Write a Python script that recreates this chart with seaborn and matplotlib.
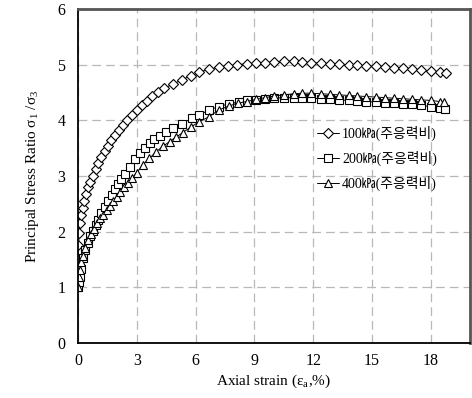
import matplotlib
matplotlib.use("Agg")
import matplotlib.pyplot as plt
import seaborn as sns

# ---- data ----
x_100 = [0, 0.03, 0.07, 0.12, 0.18, 0.25, 0.33, 0.42, 0.52, 0.63, 0.76, 0.9, 1.05, 1.2, 1.36,
         1.53, 1.7, 1.9, 2.1, 2.3, 2.5, 2.75, 3.0, 3.25, 3.5, 3.8, 4.1, 4.4, 4.83,
         5.3, 5.75, 6.2, 6.7, 7.2, 7.65, 8.1, 8.6, 9.1, 9.55, 10.0, 10.5, 11.0, 11.45, 11.9,
         12.4, 12.85, 13.3, 13.8, 14.25, 14.7, 15.2, 15.65, 16.1, 16.6, 17.05, 17.5, 18.0, 18.45, 18.76]
y_100 = [1.51, 1.76, 1.98, 2.15, 2.3, 2.43, 2.55, 2.67, 2.8, 2.9, 3.0, 3.12, 3.24, 3.35, 3.45,
         3.55, 3.64, 3.73, 3.83, 3.91, 4.0, 4.1, 4.19, 4.27, 4.35, 4.44, 4.52, 4.58, 4.65,
         4.73, 4.8, 4.87, 4.92, 4.96, 4.98, 5.0, 5.02, 5.03, 5.04, 5.05, 5.06, 5.07, 5.05, 5.04,
         5.03, 5.02, 5.01, 5.0, 4.99, 4.98, 4.97, 4.96, 4.95, 4.94, 4.92, 4.9, 4.88, 4.87, 4.86]

x_200 = [0, 0.05, 0.1, 0.17, 0.27, 0.38, 0.5, 0.62, 0.75, 0.9,
         1.05, 1.2, 1.38, 1.55, 1.72, 1.9, 2.04, 2.2, 2.4, 2.64,
         2.9, 3.15, 3.4, 3.66, 3.9, 4.17, 4.5, 4.83, 5.3, 5.8,
         6.2, 6.7, 7.2, 7.7, 8.2, 8.6, 9.1, 9.55, 10.0, 10.5,
         11.0, 11.45, 11.9, 12.4, 12.85, 13.3, 13.8, 14.25, 14.7, 15.2,
         15.65, 16.1, 16.6, 17.05, 17.5, 18.0, 18.45, 18.7]
y_200 = [1.0, 1.1, 1.19, 1.33, 1.53, 1.68, 1.8, 1.92, 2.02, 2.12,
         2.22, 2.33, 2.45, 2.56, 2.66, 2.77, 2.86, 2.95, 3.04, 3.16,
         3.3, 3.42, 3.51, 3.6, 3.66, 3.72, 3.8, 3.87, 3.94, 4.04,
         4.1, 4.19, 4.25, 4.3, 4.33, 4.36, 4.37, 4.39, 4.4, 4.41,
         4.41, 4.41, 4.4, 4.39, 4.38, 4.37, 4.36, 4.35, 4.34, 4.33,
         4.32, 4.31, 4.3, 4.29, 4.27, 4.25, 4.23, 4.21]

x_400 = [0, 0.05, 0.1, 0.17, 0.25, 0.35, 0.5, 0.65, 0.8, 1.0,
         1.15, 1.3, 1.47, 1.63, 1.8, 1.98, 2.15, 2.35, 2.54, 2.75,
         3.0, 3.3, 3.65, 4.0, 4.35, 4.68, 5.0, 5.34, 5.75, 6.2,
         6.7, 7.2, 7.7, 8.15, 8.6, 9.1, 9.55, 10.0, 10.5, 11.0,
         11.45, 11.9, 12.4, 12.85, 13.3, 13.8, 14.25, 14.7, 15.2, 15.65,
         16.1, 16.6, 17.05, 17.5, 18.0, 18.45, 18.66]
y_400 = [1.0, 1.19, 1.32, 1.45, 1.57, 1.7, 1.85, 1.96, 2.05, 2.16,
         2.24, 2.31, 2.39, 2.47, 2.55, 2.63, 2.71, 2.8, 2.88, 2.96,
         3.06, 3.2, 3.32, 3.44, 3.54, 3.62, 3.7, 3.78, 3.88, 3.98,
         4.07, 4.19, 4.26, 4.31, 4.34, 4.38, 4.41, 4.44, 4.46, 4.48,
         4.49, 4.49, 4.48, 4.47, 4.46, 4.45, 4.44, 4.43, 4.42, 4.41,
         4.4, 4.39, 4.38, 4.37, 4.36, 4.34, 4.33]

labels = ["100㎪(주응력비)", "200㎪(주응력비)", "400㎪(주응력비)"]
markers = ["D", "s", "^"]
marker_sizes = [5, 6, 6]
x_ticks = [0, 3, 6, 9, 12, 15, 18]
y_ticks = [0, 1, 2, 3, 4, 5, 6]

# ---- style ----
sns.set_theme(style="white")
plt.rcParams["font.family"] = ["Liberation Serif", "Noto Sans CJK KR", "DejaVu Sans"]
plt.rcParams["mathtext.fontset"] = "custom"
plt.rcParams["mathtext.rm"] = "Liberation Serif"
plt.rcParams["mathtext.it"] = "Liberation Serif:italic"

fig = plt.figure(figsize=(4.72, 3.98), dpi=100)
ax = fig.add_axes([0.165, 0.138, 0.831, 0.839])

series = [(x_100, y_100), (x_200, y_200), (x_400, y_400)]
for (xs, ys), lab, mk, ms in zip(series, labels, markers, marker_sizes):
    sns.lineplot(x=xs, y=ys, ax=ax, sort=False, estimator=None, color="black",
                 linewidth=0.7, marker=mk, markersize=ms, markerfacecolor="white",
                 markeredgecolor="black", markeredgewidth=0.8, label=lab)

ax.set_xlim(0, 20)
ax.set_ylim(0, 6)
ax.set_xticks(x_ticks)
ax.set_yticks(y_ticks)
ax.set_xticklabels([str(t) for t in x_ticks])
ax.set_yticklabels([str(t) for t in y_ticks])
ax.grid(True, color="#b8b8b8", linestyle=(0, (7, 4)), linewidth=0.9)
ax.set_axisbelow(True)

for side in ["left", "bottom"]:
    ax.spines[side].set_color("black")
    ax.spines[side].set_linewidth(1.3)
for side in ["top", "right"]:
    ax.spines[side].set_color("#555555")
    ax.spines[side].set_linewidth(2.0)

ax.tick_params(axis="both", labelsize=11.5, colors="black", direction="in", length=3,
               width=0.8)
ax.tick_params(axis="x", pad=7)
ax.tick_params(axis="y", pad=9)

ax.set_xlabel("Axial strain (ε$_{\\rm a}$,%)", fontsize=11, color="black", labelpad=3)
ax.set_ylabel("Principal Stress Ratio σ$_1$ /σ$_3$", fontsize=11, color="black", labelpad=12)

leg = ax.legend(loc="upper left", bbox_to_anchor=(0.672, 0.683), bbox_transform=fig.transFigure,
                frameon=False, fontsize=10, handlelength=1.6, handletextpad=0.2,
                labelspacing=0.68, borderpad=0, borderaxespad=0)
for t in leg.get_texts():
    t.set_color("black")

fig.savefig("out.png", dpi=100)
